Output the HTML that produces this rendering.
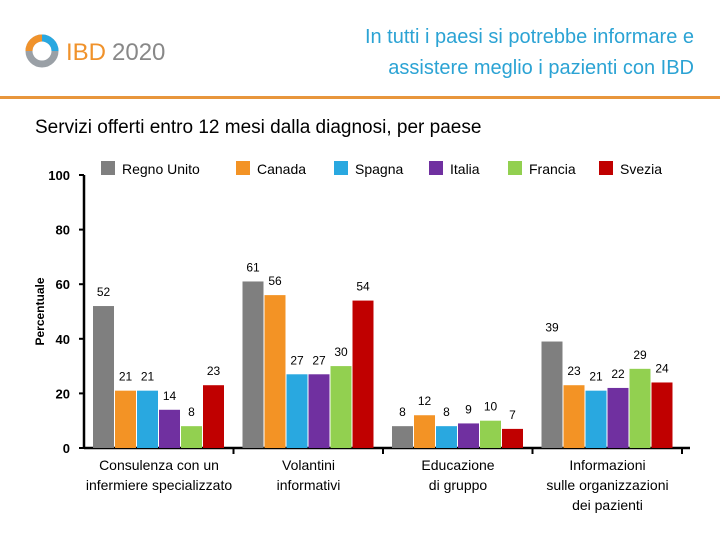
<!DOCTYPE html>
<html><head><meta charset="utf-8"><style>
body{margin:0;width:720px;height:540px;background:#fff;font-family:"Liberation Sans",sans-serif;overflow:hidden;position:relative}
.abs{position:absolute}
</style></head><body>
<div class="abs" style="left:24px;top:33px;width:200px;height:36px">
<svg width="200" height="36"><circle cx="18" cy="18" r="13" fill="none" stroke="#9aa0a6" stroke-width="7"/><path d="M18 5 A13 13 0 0 0 5 18" stroke="#f0922b" stroke-width="7" fill="none"/><path d="M31 18 A13 13 0 0 0 18 5" stroke="#29a8e0" stroke-width="7" fill="none"/>
<text x="42" y="27" font-size="24" fill="#f0922b" font-family="Liberation Sans Narrow,Liberation Sans,sans-serif">IBD</text><text x="88" y="27" font-size="24" fill="#888" font-family="Liberation Sans Narrow,Liberation Sans,sans-serif">2020</text></svg></div>
<div class="abs" style="right:26px;top:22px;text-align:right;color:#2ba3d4;font-size:20px;line-height:31px">In tutti i paesi si potrebbe informare e<br>assistere meglio i pazienti con IBD</div>
<div class="abs" style="left:0;top:96px;width:720px;height:3px;background:#e8963c"></div>
<div class="abs" style="left:35px;top:117px;font-size:19px;color:#000">Servizi offerti entro 12 mesi dalla diagnosi, per paese</div>
<svg class="abs" style="left:0;top:0" width="720" height="540" id="chart"></svg>
<script>
const categories=[["Consulenza con un","infermiere specializzato"],["Volantini","informativi"],["Educazione","di gruppo"],["Informazioni","sulle organizzazioni","dei pazienti"]];
const countries=["Regno Unito","Canada","Spagna","Italia","Francia","Svezia"];
const colors=["#7f7f7f","#f39325","#29a8e0","#7030a0","#92d050","#c00000"];
const ukValues=[52,61,8,39];
const canadaValues=[21,56,12,23];
const spainValues=[21,27,8,21];
const italyValues=[14,27,9,22];
const franceValues=[8,30,10,29];
const swedenValues=[23,54,7,24];
const yTicks=[0,20,40,60,80,100];
const series=[ukValues,canadaValues,spainValues,italyValues,franceValues,swedenValues];
const svg=document.getElementById('chart');const NS="http://www.w3.org/2000/svg";
const y0=448,y100=175,axX=84,gStart=93,gW=149.5,bw=21,bs=22;
const Y=v=>y0-(v/100)*(y0-y100);
function mk(t,a,name,txt){const e=document.createElementNS(NS,t);for(const k in a)e.setAttribute(k,a[k]);


if(txt!==undefined)e.textContent=txt;svg.appendChild(e);return e;}
mk('line',{x1:axX,y1:y100,x2:axX,y2:y0,stroke:'#000','stroke-width':2.5},'y-axis');
mk('line',{x1:axX,y1:y0,x2:690,y2:y0,stroke:'#000','stroke-width':2.5},'x-axis');
yTicks.forEach(t=>{mk('line',{x1:axX-5,y1:Y(t),x2:axX,y2:Y(t),stroke:'#000','stroke-width':2},'y-tick');
mk('text',{x:70,y:Y(t)+5,'text-anchor':'end','font-size':13,'font-weight':'bold'},'y-tick-label',t);});
for(let g=1;g<=4;g++)mk('line',{x1:axX+g*gW,y1:y0,x2:axX+g*gW,y2:y0+6,stroke:'#000','stroke-width':2},'x-tick');
mk('text',{x:44,y:Y(50),'text-anchor':'middle','font-size':12,'font-weight':'bold',transform:`rotate(-90 44 ${Y(50)})`},'y-axis-title','Percentuale');
categories.forEach((c,g)=>{series.forEach((s,i)=>{const x=gStart+g*gW+i*bs;const v=s[g];
mk('rect',{x:x,y:Y(v),width:bw,height:y0-Y(v),fill:colors[i]},'bar-'+countries[i].toLowerCase().replace(' ','-')+'-'+(g+1));
mk('text',{x:x+bw/2,y:Y(v)-10,'text-anchor':'middle','font-size':12},'value-label',v);});
const cx=gStart+g*gW+66;c.forEach((l,k)=>mk('text',{x:cx,y:470+k*20,'text-anchor':'middle','font-size':14},'category-label',l));});
const lx=[101,236,334,429,508,599];
countries.forEach((n,i)=>{mk('rect',{x:lx[i],y:161,width:14,height:14,fill:colors[i]},'legend-swatch');
mk('text',{x:lx[i]+21,y:174,'font-size':14},'legend-entry',n);});
</script>
</body></html>
